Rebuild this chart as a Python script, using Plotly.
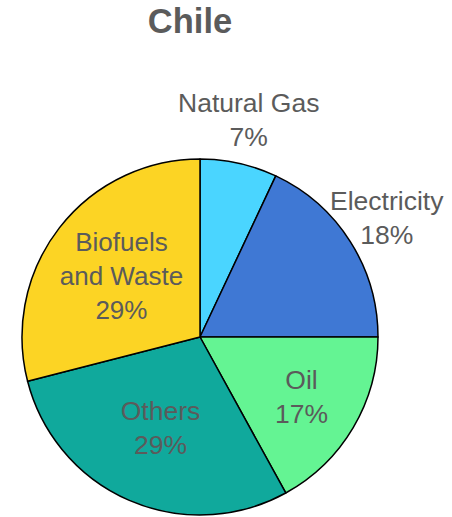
import math
import plotly.graph_objects as go

# Energy consumption shares, Chile
sources = ["Natural Gas", "Electricity", "Oil", "Others", "Biofuels<br>and Waste"]
shares = [7, 18, 17, 29, 29]
slice_colors = ["#4AD5FF", "#3F78D4", "#64F493", "#10A99C", "#FCD424"]
# small slices carry their label outside the pie, the rest inside
outside = [True, True, False, False, False]

W, H = 452, 517
cx, cy, r = 200, 337, 178
FONT = "Liberation Sans, Arial, sans-serif"
TEXT_COLOR = "#5B5B5B"
LABEL_SIZE = 26.5

fig = go.Figure(
    go.Pie(
        labels=sources,
        values=shares,
        sort=False,
        direction="clockwise",
        rotation=0,
        marker=dict(colors=slice_colors, line=dict(color="#000000", width=1.5)),
        texttemplate="%{label}<br>%{value}%",
        textposition=["none" if o else "inside" for o in outside],
        insidetextorientation="horizontal",
        textfont=dict(family=FONT, size=LABEL_SIZE, color=TEXT_COLOR),
        hoverinfo="label+percent",
        showlegend=False,
        domain=dict(x=[(cx - r) / W, (cx + r) / W], y=[(H - cy - r) / H, (H - cy + r) / H]),
    )
)

# outside labels sit just beyond the rim, along each slice's mid angle
total = sum(shares)
cum = 0
label_gap = 44
for name, v, o in zip(sources, shares, outside):
    mid = 2 * math.pi * (cum + v / 2) / total
    cum += v
    if not o:
        continue
    d = r + label_gap
    px = cx + d * math.sin(mid)
    py = cy - d * math.cos(mid)
    fig.add_annotation(
        x=px / W,
        y=1 - py / H,
        xref="paper",
        yref="paper",
        text=f"{name}<br>{round(100 * v / total)}%",
        showarrow=False,
        xanchor="center",
        yanchor="middle",
        font=dict(family=FONT, size=LABEL_SIZE, color=TEXT_COLOR),
    )

fig.update_layout(
    width=W,
    height=H,
    margin=dict(l=0, r=0, t=0, b=0),
    paper_bgcolor="white",
    plot_bgcolor="white",
    title=dict(
        text="<b>Chile</b>",
        x=190 / W,
        xanchor="center",
        y=1 - 21 / H,
        yanchor="middle",
        font=dict(family=FONT, size=34.5, color=TEXT_COLOR),
    ),
)

fig.write_html("out.html")
